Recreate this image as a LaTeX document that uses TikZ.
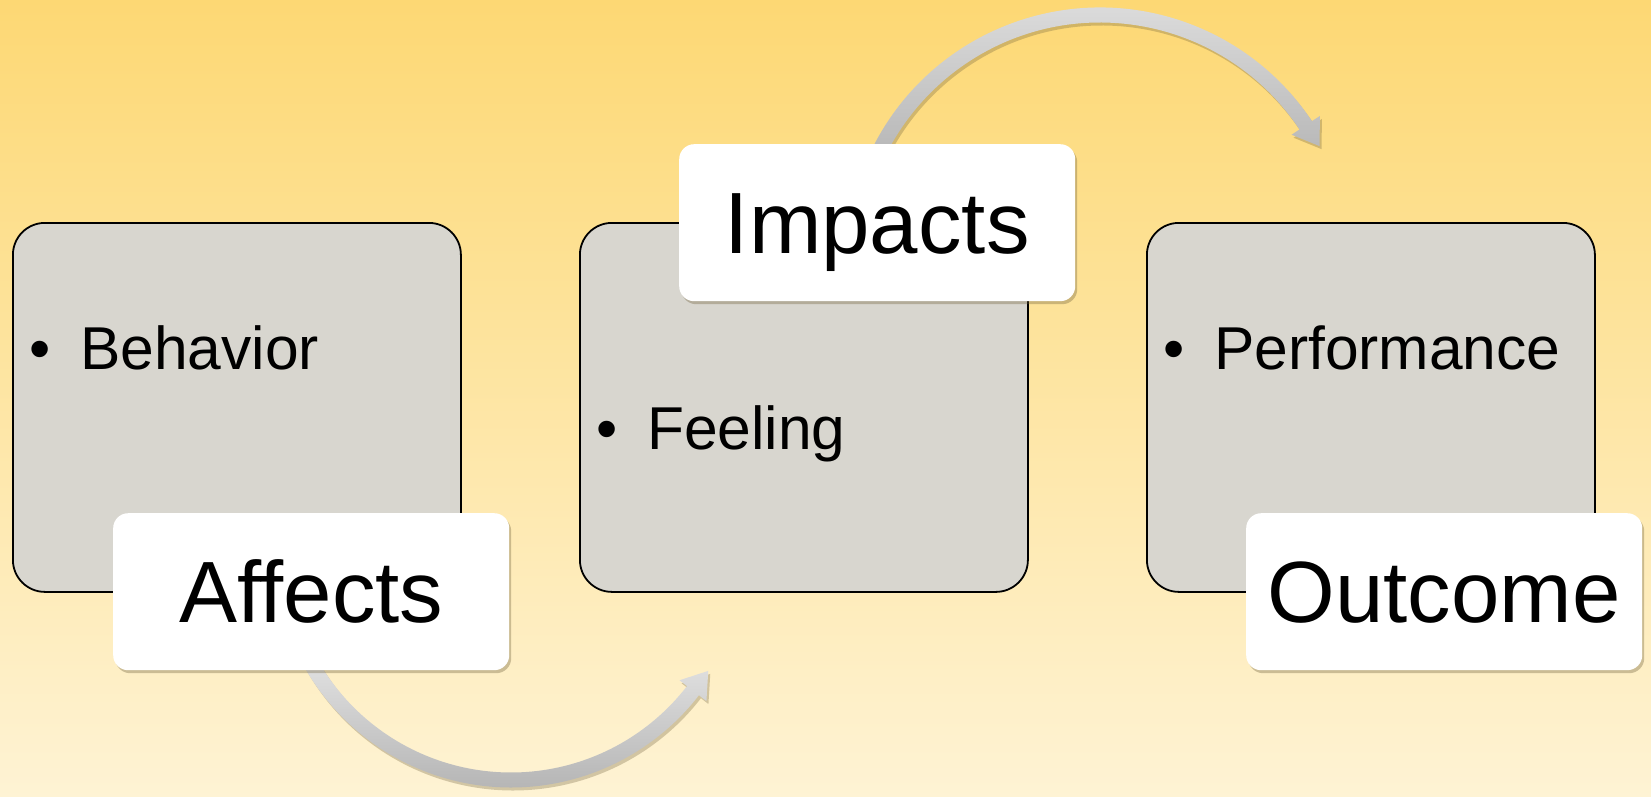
\documentclass[tikz,border=0pt]{standalone}
\usepackage{fontspec}
\setmainfont{Liberation Sans}
\usetikzlibrary{shadows,calc}
\definecolor{bgtop}{HTML}{FDD874}
\definecolor{bgbot}{HTML}{FEF3D4}
\definecolor{boxgray}{HTML}{D8D6CF}
\definecolor{arrlight}{HTML}{E3E3E3}
\definecolor{arrdark}{HTML}{B5B5B5}
\definecolor{shadowc}{HTML}{6E5F3A}
\begin{document}
\begin{tikzpicture}[x=1pt,y=-1pt,
  graybox/.style={draw=black, line width=1.8pt, fill=boxgray, rounded corners=32pt,
    minimum width=448pt, minimum height=369pt, anchor=north west, inner sep=0pt},
  labelbox/.style={fill=white, rounded corners=15pt, minimum width=396pt, minimum height=157pt,
    anchor=north west, inner sep=0pt, font=\fontsize{87}{100}\selectfont,
    text height=62pt, text depth=0pt,
    drop shadow={shadow xshift=2pt, shadow yshift=-3pt, opacity=0.35, fill=shadowc}},
  bullettext/.style={font=\fontsize{60.5}{72}\selectfont, anchor=base west, inner sep=0pt},
  arrowband/.style={top color=arrlight, bottom color=arrdark,
    drop shadow={shadow xshift=2pt, shadow yshift=-3pt, opacity=0.3, fill=shadowc}}
]
\useasboundingbox (0,0) rectangle (1651,797);
\shade[top color=bgtop, bottom color=bgbot] (0,0) rectangle (1651,797);

\coordinate (c1) at (511,550);
\coordinate (c2) at (1100,262);

% lower arrow
\path[arrowband] ($(c1)+(152:237.5)$) arc[start angle=152, end angle=37.7, radius=237.5]
  -- ($(c1)+(37.7:247)$) -- ($(c1)+(37.7:230)+(-52.3:25)$) -- ($(c1)+(37.7:213)$)
  -- ($(c1)+(37.7:222.5)$) arc[start angle=37.7, end angle=152, radius=222.5] -- cycle;

% upper arrow
\path[arrowband] ($(c2)+(-156:254.5)$) arc[start angle=-156, end angle=-33.6, radius=254.5]
  -- ($(c2)+(-33.6:264)$) -- ($(c2)+(-33.6:247)+(56.4:25)$) -- ($(c2)+(-33.6:230)$)
  -- ($(c2)+(-33.6:239.5)$) arc[start angle=-33.6, end angle=-156, radius=239.5] -- cycle;

\node[graybox] (b1) at (12,222) {};
\node[graybox] (b2) at (579,222) {};
\node[graybox] (b3) at (1146,222) {};

\node[bullettext] (t1) at (80,369) {\llap{\textbullet\hspace{30pt}}Behavior};
\node[bullettext] (t2) at (647,449) {\llap{\textbullet\hspace{30pt}}Feeling};
\node[bullettext] (t3) at (1214,369) {\llap{\textbullet\hspace{30pt}}Performance};

\node[labelbox] (l1) at (113,513) {Affects};
\node[labelbox] (l2) at (679,144) {Impacts};
\node[labelbox] (l3) at (1246,513) {Outcome};
\end{tikzpicture}
\end{document}
